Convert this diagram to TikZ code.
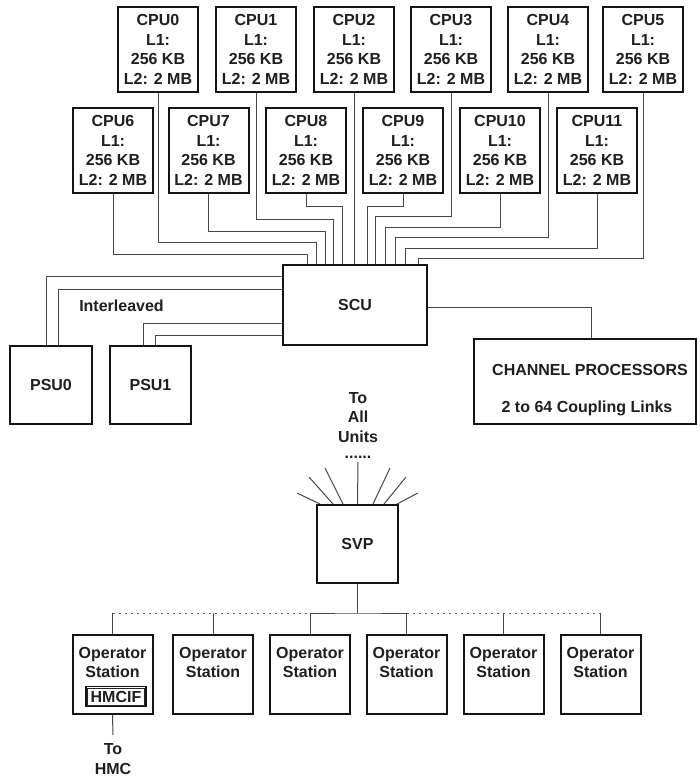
\documentclass[tikz,border=0pt]{standalone}
\usepackage{fontspec}
\setmainfont{Liberation Sans}
\usetikzlibrary{calc}
\pgfdeclarelayer{bg}
\pgfsetlayers{bg,main}
\begin{document}
\begin{tikzpicture}[x=1pt,y=-1pt,
  txt/.style={font=\bfseries\fontsize{16}{19.5}\selectfont, text=black!88, align=center, inner sep=0pt},
  box/.style={txt, draw=black!92, line width=2pt, fill=white},
  cpu/.style={box, minimum width=80, minimum height=85},
  stn/.style={box, minimum width=80, minimum height=79},
  wire/.style={draw=black!72, line width=1pt},
  dotline/.style={draw=black!65, line width=1pt, dash pattern=on 2pt off 4pt}]
\useasboundingbox (0,0) rectangle (699,776);

% CPUs top row
\node[cpu] (cpu0) at (158,49.5) {CPU0\\L1:\\256 KB\\L2: 2 MB};
\node[cpu] (cpu1) at (256,49.5) {CPU1\\L1:\\256 KB\\L2: 2 MB};
\node[cpu] (cpu2) at (354,49.5) {CPU2\\L1:\\256 KB\\L2: 2 MB};
\node[cpu] (cpu3) at (451,49.5) {CPU3\\L1:\\256 KB\\L2: 2 MB};
\node[cpu] (cpu4) at (548,49.5) {CPU4\\L1:\\256 KB\\L2: 2 MB};
\node[cpu] (cpu5) at (643,49.5) {CPU5\\L1:\\256 KB\\L2: 2 MB};
% CPUs second row
\node[cpu] (cpu6) at (113,150.5) {CPU6\\L1:\\256 KB\\L2: 2 MB};
\node[cpu] (cpu7) at (208.5,150.5) {CPU7\\L1:\\256 KB\\L2: 2 MB};
\node[cpu] (cpu8) at (306,150.5) {CPU8\\L1:\\256 KB\\L2: 2 MB};
\node[cpu] (cpu9) at (403,150.5) {CPU9\\L1:\\256 KB\\L2: 2 MB};
\node[cpu] (cpu10) at (500,150.5) {CPU10\\L1:\\256 KB\\L2: 2 MB};
\node[cpu] (cpu11) at (597,150.5) {CPU11\\L1:\\256 KB\\L2: 2 MB};

% SCU, PSUs, channel processors
\node[box, minimum width=144, minimum height=80] (scu) at (355,305) {SCU};
\node[box, minimum width=82, minimum height=78] (psu0) at (51,385) {PSU0};
\node[box, minimum width=81, minimum height=78] (psu1) at (150.5,385) {PSU1};
\node[box, minimum width=222, minimum height=85] (chan) at (585,381.5) {};
\node[txt] (chanA) at (590,370) {CHANNEL PROCESSORS};
\node[txt] (chanB) at (587,408) {2 to 64 Coupling Links};
\node[txt] (inter) at (121.5,306) {Interleaved};

% SVP
\node[txt] (toall) at (358,425) {To\\All\\Units\\[-3.5pt]......};
\node[box, minimum width=81, minimum height=78] (svp) at (357.5,544) {SVP};

% operator stations
\node[stn] (st1) at (112.5,674.5) {};
\node[stn] (st2) at (213,674.5) {};
\node[stn] (st3) at (310,674.5) {};
\node[stn] (st4) at (406.5,674.5) {};
\node[stn] (st5) at (503.5,674.5) {};
\node[stn] (st6) at (600.5,674.5) {};
\node[txt] (st1t) at (112.5,662.5) {Operator\\Station};
\node[txt] (st2t) at (213,662.5) {Operator\\Station};
\node[txt] (st3t) at (310,662.5) {Operator\\Station};
\node[txt] (st4t) at (406.5,662.5) {Operator\\Station};
\node[txt] (st5t) at (503.5,662.5) {Operator\\Station};
\node[txt] (st6t) at (600.5,662.5) {Operator\\Station};
\node[txt, draw=black!92, line width=1.2pt, minimum width=60, minimum height=20] (hmcif) at (116,696.5) {HMCIF};
\draw[black!85, line width=0.6pt] ($(hmcif.south west)+(2.2,-2.2)$) rectangle ($(hmcif.north east)+(-2.2,2.2)$);
\node[txt] (tohmc) at (113,759) {To\\HMC};
\coordinate (hmcend) at (113,735);
\coordinate (bus) at (358,613);

\begin{pgfonlayer}{bg}
\fill[white] (0,0) rectangle (699,776);
% CPU to SCU wiring
\draw[wire] (cpu6.south) |- (307,254) -- (307,254 |- scu.north);
\draw[wire] (cpu0.south) |- (316,242) -- (316,242 |- scu.north);
\draw[wire] (cpu7.south) |- (325,231) -- (325,231 |- scu.north);
\draw[wire] (cpu1.south) |- (333,219) -- (333,219 |- scu.north);
\draw[wire] (cpu8.south) |- (342,206) -- (342,206 |- scu.north);
\draw[wire] (cpu2.south) -- (cpu2.south |- scu.north);
\draw[wire] (cpu9.south) |- (367,206) -- (367,206 |- scu.north);
\draw[wire] (cpu3.south) |- (375,216) -- (375,216 |- scu.north);
\draw[wire] (cpu10.south) |- (385,227) -- (385,227 |- scu.north);
\draw[wire] (cpu4.south) |- (395,237) -- (395,237 |- scu.north);
\draw[wire] (cpu11.south) |- (405,248) -- (405,248 |- scu.north);
\draw[wire] (cpu5.south) |- (418,258) -- (418,258 |- scu.north);
% SCU to PSUs
\draw[wire] (scu.west |- 0,276) -| (46,0 |- psu0.north);
\draw[wire] (scu.west |- 0,289) -| (58,0 |- psu0.north);
\draw[wire] (scu.west |- 0,323) -| (143,0 |- psu1.north);
\draw[wire] (scu.west |- 0,335) -| (155,0 |- psu1.north);
% SCU to channel processors
\draw[wire] (scu.east |- 0,307) -| (591,0 |- chan.north);
% SVP fan
\draw[wire] (320,0 |- svp.north) -- (297,493);
\draw[wire] (333,0 |- svp.north) -- (309,477);
\draw[wire] (343,0 |- svp.north) -- (325,468);
\draw[wire] (svp.north) -- (358,462);
\draw[wire] (373,0 |- svp.north) -- (390,468);
\draw[wire] (384,0 |- svp.north) -- (406,477);
\draw[wire] (397,0 |- svp.north) -- (418,493);
% SVP to stations
\draw[wire] (svp.south) -- (svp.south |- bus);
\draw[wire] (st3.north) |- (bus) -| (st4.north);
\draw[dotline] (st1.north |- bus) -- (st3.north |- bus);
\draw[dotline] (st4.north |- bus) -- (st6.north |- bus);
\draw[wire] (st1.north) -- (st1.north |- bus);
\draw[wire] (st2.north) -- (st2.north |- bus);
\draw[wire] (st5.north) -- (st5.north |- bus);
\draw[wire] (st6.north) -- (st6.north |- bus);
\draw[wire] (st1.south) -- (hmcend);
\end{pgfonlayer}
\end{tikzpicture}
\end{document}
